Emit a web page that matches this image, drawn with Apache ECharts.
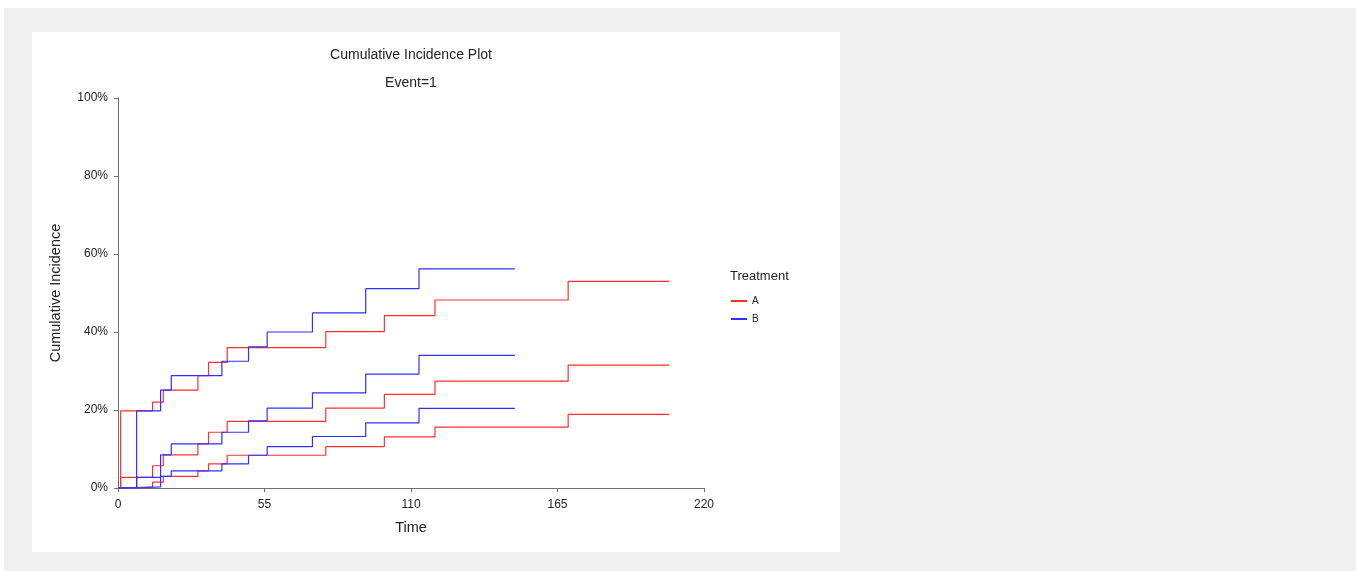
<!DOCTYPE html>
<html>
<head>
<meta charset="utf-8">
<title>Cumulative Incidence Plot</title>
<script src="https://cdn.jsdelivr.net/npm/echarts@6/dist/echarts.min.js"></script>
<style>
  html, body { margin: 0; padding: 0; background: #fff; }
  #chart { width: 1356px; height: 571px; }
</style>
</head>
<body>
<div id="chart"></div>
<script>
// Treatment A: step times and cumulative incidence (%) - upper limit, estimate, lower limit
var timesA = [0, 1, 13, 17, 30, 34, 41, 78, 100, 119, 169, 207];
var upperA = [0, 19.8, 22.0, 25.1, 28.8, 32.2, 36.0, 40.1, 44.2, 48.2, 53.0, 53.0];
var estA   = [0, 2.7, 5.7, 8.5, 11.3, 14.3, 17.1, 20.5, 24.0, 27.4, 31.5, 31.5];
var lowerA = [0, 0.3, 1.5, 3.0, 4.4, 6.2, 8.4, 10.6, 13.1, 15.6, 18.9, 18.9];

// Treatment B
var timesB = [0, 7, 16, 20, 39, 49, 56, 73, 93, 113, 149];
var upperB = [0, 19.8, 25.1, 28.8, 32.5, 36.2, 40.0, 44.9, 51.1, 56.2, 56.2];
var estB   = [0, 2.7, 8.5, 11.3, 14.3, 17.2, 20.5, 24.4, 29.2, 34.0, 34.0];
var lowerB = [0, 0.3, 3.0, 4.4, 6.2, 8.4, 10.6, 13.2, 16.7, 20.4, 20.4];

var xTicks = [0, 55, 110, 165, 220];
var yTicks = [0, 20, 40, 60, 80, 100];

function pairs(times, vals) {
    return times.map(function (t, i) { return [t, vals[i]]; });
}
function stepSeries(name, color, times, vals) {
    return {
        name: name,
        type: 'line',
        step: 'end',
        showSymbol: false,
        symbol: 'none',
        silent: true,
        color: color,
        lineStyle: { color: color, width: 1.2 },
        data: pairs(times, vals)
    };
}

var redA = '#ff3030';
var blueB = '#3030ff';
var font = 'Liberation Sans, Arial, sans-serif';

var myChart = echarts.init(document.getElementById('chart'));
var option = {
    animation: false,
    textStyle: { fontFamily: font },
    graphic: [
        { type: 'rect', z: -10, shape: { x: 4, y: 8, width: 1352, height: 563 }, style: { fill: '#f0f0f0' } },
        { type: 'rect', z: -9, shape: { x: 32, y: 32, width: 808, height: 520 }, style: { fill: '#ffffff' } },
        { type: 'text', x: 411, y: 55, style: { text: 'Cumulative Incidence Plot', fontSize: 14, fontFamily: font, fill: '#222', align: 'center', verticalAlign: 'middle' } },
        { type: 'text', x: 411, y: 83, style: { text: 'Event=1', fontSize: 14, fontFamily: font, fill: '#222', align: 'center', verticalAlign: 'middle' } },
        { type: 'text', x: 730, y: 276, style: { text: 'Treatment', fontSize: 13, fontFamily: font, fill: '#222', align: 'left', verticalAlign: 'middle' } }
    ],
    legend: {
        orient: 'vertical',
        left: 726,
        top: 291,
        itemWidth: 16,
        itemHeight: 2,
        itemGap: 8,
        icon: 'rect',
        textStyle: { fontSize: 10, color: '#222', fontFamily: font },
        data: ['A', 'B']
    },
    grid: { left: 118, top: 98, width: 586, height: 390 },
    xAxis: {
        type: 'value',
        min: xTicks[0],
        max: xTicks[xTicks.length - 1],
        interval: 55,
        name: 'Time',
        nameLocation: 'middle',
        nameGap: 32,
        nameTextStyle: { fontSize: 14.5, color: '#222' },
        axisLine: { lineStyle: { color: '#707070' } },
        axisTick: { show: true, length: 4, lineStyle: { color: '#707070' } },
        axisLabel: { fontSize: 12, color: '#222', margin: 11 },
        splitLine: { show: false }
    },
    yAxis: {
        type: 'value',
        min: yTicks[0],
        max: yTicks[yTicks.length - 1],
        interval: 20,
        name: 'Cumulative Incidence',
        nameLocation: 'middle',
        nameGap: 55,
        nameTextStyle: { fontSize: 14.5, color: '#222' },
        axisLine: { show: true, lineStyle: { color: '#707070' } },
        axisTick: { show: true, length: 4, lineStyle: { color: '#707070' } },
        axisLabel: { fontSize: 12, color: '#222', margin: 10, formatter: '{value}%' },
        splitLine: { show: false }
    },
    series: [
        stepSeries('A', redA, timesA, upperA),
        stepSeries('A', redA, timesA, estA),
        stepSeries('A', redA, timesA, lowerA),
        stepSeries('B', blueB, timesB, upperB),
        stepSeries('B', blueB, timesB, estB),
        stepSeries('B', blueB, timesB, lowerB)
    ]
};
myChart.setOption(option);
window.addEventListener('resize', function () { myChart.resize(); });
</script>
</body>
</html>
